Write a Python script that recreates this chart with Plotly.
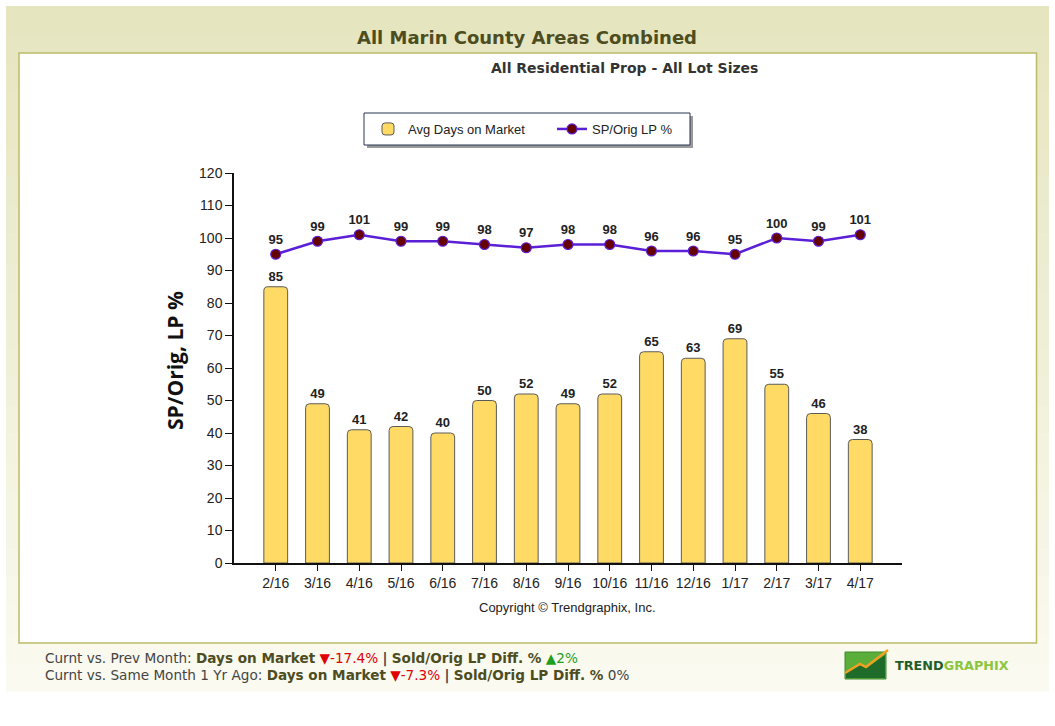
import plotly.graph_objects as go

W, H = 1055, 726

categories = ["2/16", "3/16", "4/16", "5/16", "6/16", "7/16", "8/16", "9/16",
              "10/16", "11/16", "12/16", "1/17", "2/17", "3/17", "4/17"]
avg_days = [85, 49, 41, 42, 40, 50, 52, 49, 52, 65, 63, 69, 55, 46, 38]
sp_orig_lp = [95, 99, 101, 99, 99, 98, 97, 98, 98, 96, 96, 95, 100, 99, 101]
y_ticks = [0, 10, 20, 30, 40, 50, 60, 70, 80, 90, 100, 110, 120]


def px_x(x):
    return x / W


def px_y(y):
    return 1 - y / H


fig = go.Figure()

fig.add_trace(go.Bar(
    x=categories, y=avg_days, name="Avg Days on Market",
    marker=dict(color="#ffdb66", line=dict(color="#5a5a5a", width=1), cornerradius=4),
    width=0.57,
    text=[str(v) for v in avg_days], textposition="outside",
    textfont=dict(family="Liberation Sans", size=13, color="#222222", weight="bold"),
    cliponaxis=False,
))

fig.add_trace(go.Scatter(
    x=categories, y=sp_orig_lp, name="SP/Orig LP %",
    mode="lines+markers+text",
    line=dict(color="#5a1fd6", width=2.5),
    marker=dict(color="#660000", size=10, line=dict(color="#5a1fd6", width=1.2)),
    text=[str(v) for v in sp_orig_lp], textposition="top center",
    textfont=dict(family="Liberation Sans", size=13, color="#222222", weight="bold"),
    cliponaxis=False,
))

shapes = []
top = (0xe5, 0xe5, 0xc0)
bot = (0xfa, 0xfa, 0xf0)
y0, y1 = 6, 691
n = 24
for i in range(n):
    t = i / (n - 1)
    c = tuple(int(round(top[k] + (bot[k] - top[k]) * t)) for k in range(3))
    ya = y0 + (y1 - y0) * i / n
    yb = y0 + (y1 - y0) * (i + 1) / n + 0.5
    shapes.append(dict(type="rect", xref="paper", yref="paper",
                       x0=px_x(6), x1=px_x(1049), y0=px_y(yb), y1=px_y(ya),
                       fillcolor="rgb(%d,%d,%d)" % c, line=dict(width=0), layer="below"))
shapes.append(dict(type="rect", xref="paper", yref="paper",
                   x0=px_x(19), x1=px_x(1036.5), y0=px_y(643), y1=px_y(53),
                   fillcolor="white", line=dict(color="#bcbc68", width=1.5), layer="below"))
shapes.append(dict(type="rect", xref="paper", yref="paper",
                   x0=px_x(367), x1=px_x(693), y0=px_y(148), y1=px_y(116),
                   fillcolor="#9a9a9a", line=dict(width=0), layer="below"))
shapes.append(dict(type="rect", xref="paper", yref="paper",
                   x0=px_x(364), x1=px_x(690), y0=px_y(145), y1=px_y(113),
                   fillcolor="white", line=dict(color="#2a3550", width=1), layer="below"))
shapes.append(dict(type="rect", xref="paper", yref="paper",
                   x0=px_x(845), x1=px_x(886), y0=px_y(679), y1=px_y(652),
                   fillcolor="#5cae3a", line=dict(color="#3f8a2a", width=1), layer="above"))
shapes.append(dict(type="path", xref="paper", yref="paper",
                   path="M %f,%f L %f,%f L %f,%f L %f,%f L %f,%f L %f,%f Z" % (
                       px_x(846), px_y(678), px_x(846), px_y(672), px_x(860), px_y(665),
                       px_x(866), px_y(668), px_x(885), px_y(655), px_x(885), px_y(678)),
                   fillcolor="#1f6b2a", line=dict(width=0), layer="above"))
shapes.append(dict(type="path", xref="paper", yref="paper",
                   path="M %f,%f L %f,%f L %f,%f L %f,%f" % (
                       px_x(845), px_y(673), px_x(860), px_y(664), px_x(866), px_y(667),
                       px_x(888), px_y(650)),
                   line=dict(color="#f0a020", width=2.5), layer="above"))

annotations = [
    dict(text="<b>All Marin County Areas Combined</b>", x=px_x(527), y=px_y(37),
         xanchor="center", font=dict(family="DejaVu Sans", size=18, color="#4d4d1f")),
    dict(text="<b>All Residential Prop - All Lot Sizes</b>", x=px_x(624), y=px_y(68),
         xanchor="center", font=dict(family="DejaVu Sans", size=14, color="#333333")),
    dict(text="<b>SP/Orig, LP %</b>", x=px_x(175), y=px_y(361), textangle=-90,
         xanchor="center", font=dict(family="Open Sans", size=21, color="#111111")),
    dict(text="Copyright © Trendgraphix, Inc.", x=px_x(567), y=px_y(607),
         xanchor="center", font=dict(family="Liberation Sans", size=13, color="#222222")),
    dict(text=("Curnt vs. Prev Month: <b><span style='color:#4d4d1f'>Days on Market</span></b> "
               "<span style='color:#e00000'>▼-17.4%</span> <b>|</b> "
               "<b><span style='color:#4d4d1f'>Sold/Orig LP Diff. %</span></b> "
               "<span style='color:#1e9e1e'>▲2%</span>"),
         x=px_x(43), y=px_y(658), xanchor="left",
         font=dict(family="DejaVu Sans", size=13.6, color="#444444")),
    dict(text=("Curnt vs. Same Month 1 Yr Ago: <b><span style='color:#4d4d1f'>Days on Market</span></b> "
               "<span style='color:#e00000'>▼-7.3%</span> <b>|</b> "
               "<b><span style='color:#4d4d1f'>Sold/Orig LP Diff. %</span></b> 0%"),
         x=px_x(43), y=px_y(675), xanchor="left",
         font=dict(family="DejaVu Sans", size=13.6, color="#444444")),
    dict(text="<b><span style='color:#1f5e2a'>TREND</span><span style='color:#8cc63f'>GRAPHIX</span></b>",
         x=px_x(893), y=px_y(665), xanchor="left",
         font=dict(family="DejaVu Sans", size=12.8)),
]
for a in annotations:
    a.setdefault("xref", "paper")
    a.setdefault("yref", "paper")
    a.setdefault("showarrow", False)
    a.setdefault("yanchor", "middle")

fig.update_layout(
    width=W, height=H,
    margin=dict(l=0, r=0, t=0, b=0, autoexpand=False),
    paper_bgcolor="white", plot_bgcolor="rgba(0,0,0,0)",
    showlegend=True,
    legend=dict(orientation="h", x=px_x(368), y=px_y(129), xanchor="left", yanchor="middle",
                bgcolor="rgba(0,0,0,0)", borderwidth=0,
                font=dict(family="Liberation Sans", size=13, color="#222222"),
                entrywidth=139, entrywidthmode="pixels", traceorder="normal"),
    shapes=shapes, annotations=annotations,
    xaxis=dict(domain=[px_x(234), px_x(902)], range=[-1, 15], type="category",
               showline=True, linecolor="#111111", linewidth=1.5,
               ticks="outside", ticklen=6, tickcolor="#111111", tickwidth=1,
               showgrid=False, zeroline=False, automargin=False,
               tickfont=dict(family="Liberation Sans", size=14, color="#222222")),
    yaxis=dict(domain=[px_y(563), px_y(173)], range=[0, 120], tickvals=y_ticks,
               showline=True, linecolor="#111111", linewidth=1.5,
               ticks="outside", ticklen=7, tickcolor="#111111", tickwidth=1,
               showgrid=False, zeroline=False, automargin=False,
               tickfont=dict(family="Liberation Sans", size=14, color="#222222")),
    bargap=0.43,
)

fig.write_html("out.html", config={"displayModeBar": False},
               post_script="document.body.style.margin='0';document.body.style.overflow='hidden';")
